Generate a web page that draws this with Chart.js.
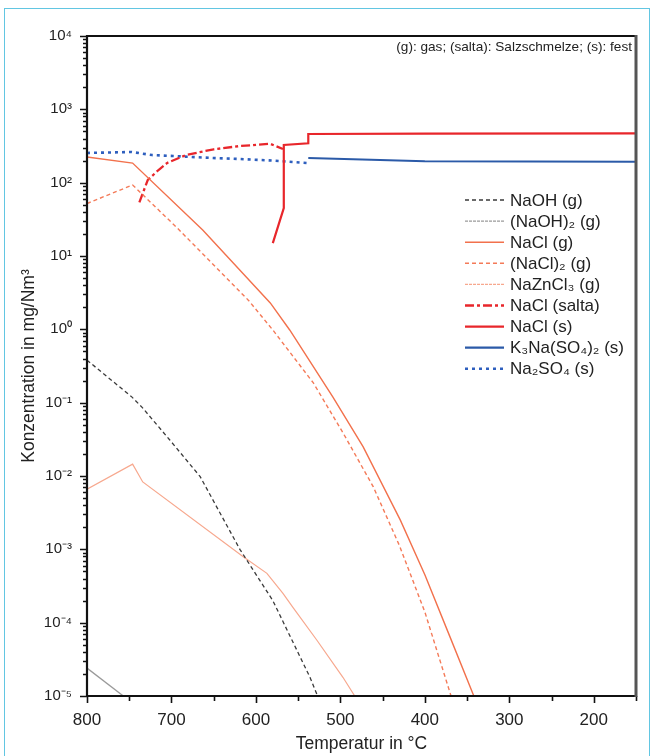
<!DOCTYPE html>
<html>
<head>
<meta charset="utf-8">
<script src="https://cdn.jsdelivr.net/npm/chart.js@4.4.1/dist/chart.umd.min.js"></script>
<style>
  html, body { margin: 0; padding: 0; background: #fff; }
  #wrap { position: relative; width: 654px; height: 756px; overflow: hidden; }
  #frame { position: absolute; left: 4px; top: 8px; width: 644px; height: 780px; border: 1.5px solid #62c6e2; }
  #c { position: absolute; left: 0; top: 0; }
</style>
</head>
<body>
<div id="wrap">
  <div id="frame"></div>
  <canvas id="c" width="654" height="756"></canvas>
</div>
<script>
// temperatures (°C) and concentrations (mg/Nm³)
const naohT = [800, 747, 735, 702, 666, 619, 580, 536, 527]
const naohC = [0.38, 0.12, 0.087, 0.031, 0.0098, 0.001, 0.0002, 0.000018, 0.00001]

const naoh2T = [800, 757]
const naoh2C = [0.000024, 0.00001]

const naclT = [800, 746, 663, 583, 560, 509, 473, 429, 400, 370, 342]
const naclC = [224, 185, 22.6, 2.29, 0.98, 0.12, 0.025, 0.0025, 0.00045, 0.000063, 0.00001]

const nacl2T = [800, 746, 693, 609, 580, 532, 497, 461, 430, 400, 369]
const nacl2C = [52, 93, 24, 2.5, 0.98, 0.186, 0.039, 0.0071, 0.00112, 0.00014, 0.00001]

const nazncl3T = [800, 746, 734, 615, 587, 568, 556, 528, 497, 483]
const nazncl3C = [0.0066, 0.0145, 0.0083, 0.00079, 0.00047, 0.00025, 0.00016, 0.000058, 0.000018, 0.00001]

const naclSaltaT = [738, 728, 715, 705, 682, 650, 619, 583, 568]
const naclSaltaC = [54, 109, 150, 186, 240, 285, 316, 339, 288]

const naclFestT = [580, 567, 567, 538, 538, 400, 150]
const naclFestC = [15, 45, 327, 345, 461, 465, 470]

const k3naT = [538, 400, 150]
const k3naC = [217, 196, 193]

const na2so4T = [800, 747, 723, 698, 651, 619, 580, 538]
const na2so4C = [254, 262, 238, 231, 217, 210, 200, 185]

const xTicks = [800, 700, 600, 500, 400, 300, 200]
const yTicks = [-5, -4, -3, -2, -1, 0, 1, 2, 3, 4]

const labels = ['NaOH (g)', '(NaOH)\u2082 (g)', 'NaCl (g)', '(NaCl)\u2082 (g)', 'NaZnCl\u2083 (g)',
  'NaCl (salta)', 'NaCl (s)', 'K\u2083Na(SO\u2084)\u2082 (s)', 'Na\u2082SO\u2084 (s)']

const sup = {'-': '\u207B', '0': '\u2070', '1': '\u00B9', '2': '\u00B2', '3': '\u00B3', '4': '\u2074', '5': '\u2075'}

function pts(t, c){
  return t.map((v, i) => ({x: v, y: c[i]}))
}

function line(label, t, c, color, width, dash){
  return {
    label: label,
    data: pts(t, c),
    borderColor: color,
    borderWidth: width,
    borderDash: dash,
    pointRadius: 0,
    tension: 0,
    fill: false
  }
}

const datasets = [
  line(labels[0], naohT, naohC, '#3a3a3a', 1.3, [4, 3]),
  line(labels[1], naoh2T, naoh2C, '#9a9a9a', 1.3, []),
  line(labels[2], naclT, naclC, '#f2714c', 1.4, []),
  line(labels[3], nacl2T, nacl2C, '#f47a58', 1.4, [4, 3]),
  line(labels[4], nazncl3T, nazncl3C, '#f7a88e', 1.2, []),
  line(labels[5], naclSaltaT, naclSaltaC, '#e8262b', 2.3, [9, 3, 3, 3]),
  line(labels[6], naclFestT, naclFestC, '#e8262b', 2.2, []),
  line(labels[7], k3naT, k3naC, '#2b5aa8', 2.2, []),
  line(labels[8], na2so4T, na2so4C, '#2e5fbe', 2.6, [3, 4])
]
// legend samples: (NaOH)2 and NaZnCl3 look finely dashed there
const legendDash = [[4, 3], [3, 1], [], [4, 3], [3, 1], [9, 3, 3, 3], [], [], [3, 4]]

const FONT = '"Liberation Sans", Arial, sans-serif'

const decor = {
  id: 'decor',
  afterDraw(chart){
    const ctx = chart.ctx
    const a = chart.chartArea
    const xs = chart.scales.x
    const ys = chart.scales.y
    ctx.save()

    // minor / major ticks, pointing outwards
    ctx.strokeStyle = '#111'
    ctx.lineWidth = 1.6
    ctx.beginPath()
    for (let d = -5; d <= 4; d++){
      for (let k = 1; k <= 9; k++){
        if (d === 4 && k > 1) break
        const py = Math.round(ys.getPixelForValue(k * Math.pow(10, d))) + 0.5
        const len = k === 1 ? 7 : 4
        ctx.moveTo(a.left, py)
        ctx.lineTo(a.left - len, py)
      }
    }
    for (let t = 800; t >= 150; t -= 50){
      const px = Math.round(xs.getPixelForValue(t)) + 0.5
      const len = t % 100 === 0 ? 7 : 5
      ctx.moveTo(px, a.bottom)
      ctx.lineTo(px, a.bottom + len)
    }
    ctx.stroke()

    // frame
    ctx.lineWidth = 2.2
    ctx.strokeStyle = '#111'
    ctx.beginPath()
    ctx.moveTo(a.right, a.top)
    ctx.lineTo(a.left, a.top)
    ctx.lineTo(a.left, a.bottom)
    ctx.lineTo(a.right, a.bottom)
    ctx.stroke()
    ctx.strokeStyle = '#555'
    ctx.lineWidth = 3
    ctx.beginPath()
    ctx.moveTo(a.right, a.top - 1)
    ctx.lineTo(a.right, a.bottom + 1)
    ctx.stroke()

    // note
    ctx.fillStyle = '#222'
    ctx.font = '13.6px ' + FONT
    ctx.textAlign = 'right'
    ctx.textBaseline = 'middle'
    ctx.fillText('(g): gas; (salta): Salzschmelze; (s): fest', a.right - 4, 47)

    // legend
    ctx.textAlign = 'left'
    ctx.font = '17px ' + FONT
    chart.data.datasets.forEach((ds, i) => {
      const y = 200 + i * 21.1
      ctx.strokeStyle = ds.borderColor
      ctx.lineWidth = ds.borderWidth
      ctx.setLineDash(legendDash[i])
      ctx.beginPath()
      ctx.moveTo(465, y)
      ctx.lineTo(504, y)
      ctx.stroke()
      ctx.setLineDash([])
      ctx.fillStyle = '#222'
      ctx.fillText(ds.label, 510, y + 1)
    })
    ctx.restore()
  }
}

new Chart(document.getElementById('c'), {
  type: 'line',
  data: { datasets: datasets },
  options: {
    responsive: false,
    animation: false,
    layout: { padding: { top: 36, right: 18, left: 0, bottom: 0 } },
    plugins: { legend: { display: false }, tooltip: { enabled: false } },
    scales: {
      x: {
        type: 'linear',
        reverse: true,
        min: 150,
        max: 800,
        afterBuildTicks: s => { s.ticks = xTicks.map(v => ({value: v})) },
        afterFit: s => { s.height = 60 },
        grid: { display: false },
        border: { display: false },
        ticks: { color: '#222', font: { family: FONT, size: 17 }, padding: 6, maxRotation: 0 },
        title: { display: true, text: 'Temperatur in \u00B0C', color: '#222', font: { family: FONT, size: 17.5 }, padding: { top: 0, bottom: 1 } }
      },
      y: {
        type: 'logarithmic',
        min: 1e-5,
        max: 1e4,
        afterBuildTicks: s => { s.ticks = yTicks.map(e => ({value: Math.pow(10, e)})) },
        afterFit: s => { s.width = 87 },
        grid: { display: false },
        border: { display: false },
        ticks: {
          color: '#222',
          font: { family: FONT, size: 15 },
          padding: 7,
          autoSkip: false,
          callback: v => '10' + String(Math.round(Math.log10(v))).split('').map(ch => sup[ch]).join('')
        },
        title: { display: true, text: 'Konzentration in mg/Nm\u00B3', color: '#222', font: { family: FONT, size: 17.5 }, padding: { top: 19, bottom: 0 } }
      }
    }
  },
  plugins: [decor]
})
</script>
</body>
</html>
